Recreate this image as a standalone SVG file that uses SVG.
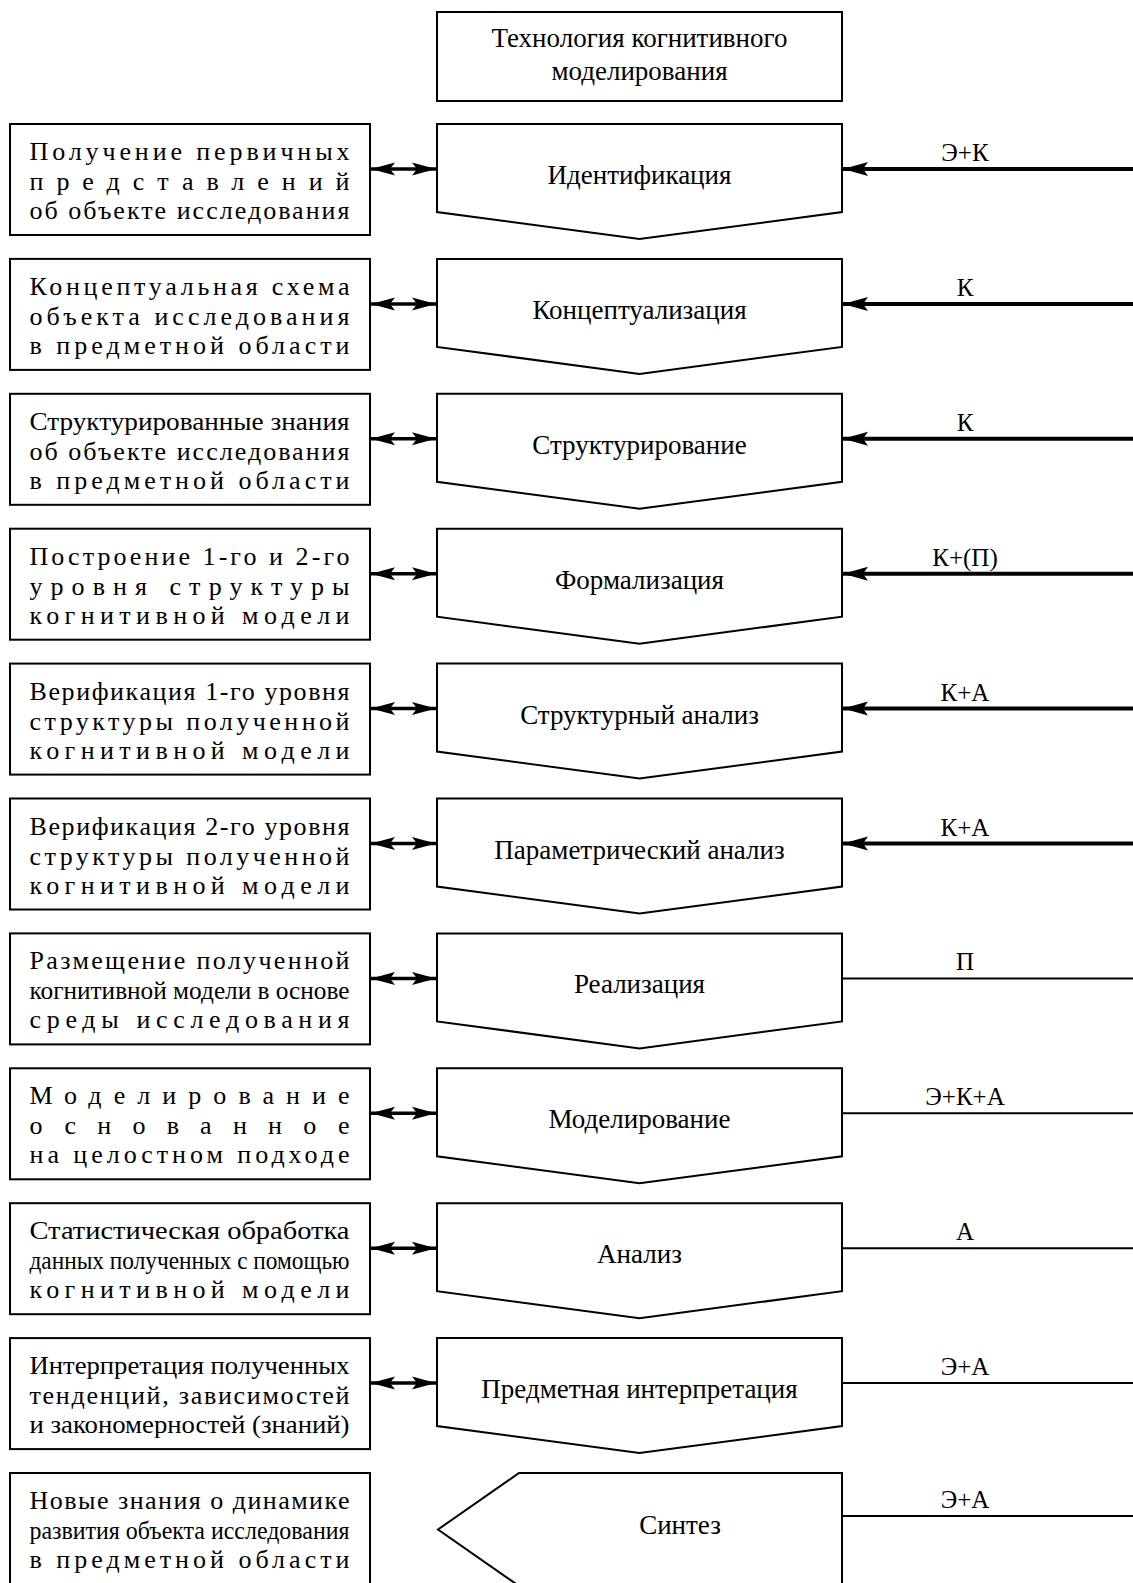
<svg xmlns="http://www.w3.org/2000/svg" width="1133" height="1583" viewBox="0 0 1133 1583">
  <defs>
    <style>
      .box { fill: #fff; stroke: #000; stroke-width: 2; }
      .txt { font-family: "Liberation Serif", "Times New Roman", serif; font-size: 26px; fill: #000; }
      .ctr { font-family: "Liberation Serif", "Times New Roman", serif; font-size: 27px; fill: #000; text-anchor: middle; }
      .lbl { font-family: "Liberation Serif", "Times New Roman", serif; font-size: 25px; fill: #000; text-anchor: middle; }
      .dbl { stroke: #000; stroke-width: 3.5; fill: none; }
      .thick { stroke: #000; stroke-width: 4; fill: none; }
      .thin { stroke: #000; stroke-width: 2; fill: none; }
    </style>
    <marker id="headDbl" markerUnits="userSpaceOnUse" markerWidth="26" markerHeight="16" refX="24" refY="7" orient="auto-start-reverse">
      <path d="M0,0.5 L24,7 L0,13.5 L5,7 Z" fill="#000"/>
    </marker>
    <marker id="headIn" markerUnits="userSpaceOnUse" markerWidth="28" markerHeight="16" refX="25" refY="7.5" orient="auto">
      <path d="M0,0.5 L25,7.5 L0,14.5 L5,7.5 Z" fill="#000"/>
    </marker>
  </defs>

  <!-- title block -->
  <g id="title">
    <rect class="box" x="437" y="12" width="405" height="89"/>
    <text class="ctr" x="639.5" y="47">Технология когнитивного</text>
    <text class="ctr" x="639.5" y="80">моделирования</text>
  </g>

  <!-- row 1 -->
  <g id="res1" transform="translate(0,124)">
    <rect class="box" x="10" y="0" width="360" height="111"/>
    <text class="txt" x="29.5" y="36" textLength="320" lengthAdjust="spacing">Получение первичных</text>
    <text class="txt" x="29.5" y="66" textLength="320" lengthAdjust="spacing">представлений</text>
    <text class="txt" x="29.5" y="95" textLength="320" lengthAdjust="spacing">об объекте исследования</text>
  </g>
  <g id="stage1" transform="translate(0,124)">
    <polygon class="box" points="437,0 842,0 842,88 639.5,115 437,88"/>
    <text class="ctr" x="639.5" y="60">Идентификация</text>
  </g>

  <!-- row 2 -->
  <g id="res2" transform="translate(0,258.9)">
    <rect class="box" x="10" y="0" width="360" height="111"/>
    <text class="txt" x="29.5" y="36" textLength="320" lengthAdjust="spacing">Концептуальная схема</text>
    <text class="txt" x="29.5" y="66" textLength="320" lengthAdjust="spacing">объекта исследования</text>
    <text class="txt" x="29.5" y="95" textLength="320" lengthAdjust="spacing">в предметной области</text>
  </g>
  <g id="stage2" transform="translate(0,258.9)">
    <polygon class="box" points="437,0 842,0 842,88 639.5,115 437,88"/>
    <text class="ctr" x="639.5" y="60">Концептуализация</text>
  </g>

  <!-- row 3 -->
  <g id="res3" transform="translate(0,393.8)">
    <rect class="box" x="10" y="0" width="360" height="111"/>
    <text class="txt" x="29.5" y="36" textLength="320" lengthAdjust="spacingAndGlyphs">Структурированные знания</text>
    <text class="txt" x="29.5" y="66" textLength="320" lengthAdjust="spacing">об объекте исследования</text>
    <text class="txt" x="29.5" y="95" textLength="320" lengthAdjust="spacing">в предметной области</text>
  </g>
  <g id="stage3" transform="translate(0,393.8)">
    <polygon class="box" points="437,0 842,0 842,88 639.5,115 437,88"/>
    <text class="ctr" x="639.5" y="60">Структурирование</text>
  </g>

  <!-- row 4 -->
  <g id="res4" transform="translate(0,528.7)">
    <rect class="box" x="10" y="0" width="360" height="111"/>
    <text class="txt" x="29.5" y="36" textLength="320" lengthAdjust="spacing">Построение 1-го и 2-го</text>
    <text class="txt" x="29.5" y="66" textLength="320" lengthAdjust="spacing">уровня структуры</text>
    <text class="txt" x="29.5" y="95" textLength="320" lengthAdjust="spacing">когнитивной модели</text>
  </g>
  <g id="stage4" transform="translate(0,528.7)">
    <polygon class="box" points="437,0 842,0 842,88 639.5,115 437,88"/>
    <text class="ctr" x="639.5" y="60">Формализация</text>
  </g>

  <!-- row 5 -->
  <g id="res5" transform="translate(0,663.6)">
    <rect class="box" x="10" y="0" width="360" height="111"/>
    <text class="txt" x="29.5" y="36" textLength="320" lengthAdjust="spacing">Верификация 1-го уровня</text>
    <text class="txt" x="29.5" y="66" textLength="320" lengthAdjust="spacing">структуры полученной</text>
    <text class="txt" x="29.5" y="95" textLength="320" lengthAdjust="spacing">когнитивной модели</text>
  </g>
  <g id="stage5" transform="translate(0,663.6)">
    <polygon class="box" points="437,0 842,0 842,88 639.5,115 437,88"/>
    <text class="ctr" x="639.5" y="60">Структурный анализ</text>
  </g>

  <!-- row 6 -->
  <g id="res6" transform="translate(0,798.5)">
    <rect class="box" x="10" y="0" width="360" height="111"/>
    <text class="txt" x="29.5" y="36" textLength="320" lengthAdjust="spacing">Верификация 2-го уровня</text>
    <text class="txt" x="29.5" y="66" textLength="320" lengthAdjust="spacing">структуры полученной</text>
    <text class="txt" x="29.5" y="95" textLength="320" lengthAdjust="spacing">когнитивной модели</text>
  </g>
  <g id="stage6" transform="translate(0,798.5)">
    <polygon class="box" points="437,0 842,0 842,88 639.5,115 437,88"/>
    <text class="ctr" x="639.5" y="60">Параметрический анализ</text>
  </g>

  <!-- row 7 -->
  <g id="res7" transform="translate(0,933.4)">
    <rect class="box" x="10" y="0" width="360" height="111"/>
    <text class="txt" x="29.5" y="36" textLength="320" lengthAdjust="spacing">Размещение полученной</text>
    <text class="txt" x="29.5" y="66" textLength="320" lengthAdjust="spacingAndGlyphs">когнитивной модели в основе</text>
    <text class="txt" x="29.5" y="95" textLength="320" lengthAdjust="spacing">среды исследования</text>
  </g>
  <g id="stage7" transform="translate(0,933.4)">
    <polygon class="box" points="437,0 842,0 842,88 639.5,115 437,88"/>
    <text class="ctr" x="639.5" y="60">Реализация</text>
  </g>

  <!-- row 8 -->
  <g id="res8" transform="translate(0,1068.3)">
    <rect class="box" x="10" y="0" width="360" height="111"/>
    <text class="txt" x="29.5" y="36" textLength="320" lengthAdjust="spacing">Моделирование</text>
    <text class="txt" x="29.5" y="66" textLength="320" lengthAdjust="spacing">основанное</text>
    <text class="txt" x="29.5" y="95" textLength="320" lengthAdjust="spacing">на целостном подходе</text>
  </g>
  <g id="stage8" transform="translate(0,1068.3)">
    <polygon class="box" points="437,0 842,0 842,88 639.5,115 437,88"/>
    <text class="ctr" x="639.5" y="60">Моделирование</text>
  </g>

  <!-- row 9 -->
  <g id="res9" transform="translate(0,1203.2)">
    <rect class="box" x="10" y="0" width="360" height="111"/>
    <text class="txt" x="29.5" y="36" textLength="320" lengthAdjust="spacingAndGlyphs">Статистическая обработка</text>
    <text class="txt" x="29.5" y="66" textLength="320" lengthAdjust="spacingAndGlyphs">данных полученных с помощью</text>
    <text class="txt" x="29.5" y="95" textLength="320" lengthAdjust="spacing">когнитивной модели</text>
  </g>
  <g id="stage9" transform="translate(0,1203.2)">
    <polygon class="box" points="437,0 842,0 842,88 639.5,115 437,88"/>
    <text class="ctr" x="639.5" y="60">Анализ</text>
  </g>

  <!-- row 10 -->
  <g id="res10" transform="translate(0,1338.1)">
    <rect class="box" x="10" y="0" width="360" height="111"/>
    <text class="txt" x="29.5" y="36" textLength="320" lengthAdjust="spacingAndGlyphs">Интерпретация полученных</text>
    <text class="txt" x="29.5" y="66" textLength="320" lengthAdjust="spacing">тенденций, зависимостей</text>
    <text class="txt" x="29.5" y="95" textLength="320" lengthAdjust="spacingAndGlyphs">и закономерностей (знаний)</text>
  </g>
  <g id="stage10" transform="translate(0,1338.1)">
    <polygon class="box" points="437,0 842,0 842,88 639.5,115 437,88"/>
    <text class="ctr" x="639.5" y="60">Предметная интерпретация</text>
  </g>

  <!-- row 11 -->
  <g id="res11" transform="translate(0,1473)">
    <rect class="box" x="10" y="0" width="360" height="111"/>
    <text class="txt" x="29.5" y="36" textLength="320" lengthAdjust="spacing">Новые знания о динамике</text>
    <text class="txt" x="29.5" y="66" textLength="320" lengthAdjust="spacingAndGlyphs">развития объекта исследования</text>
    <text class="txt" x="29.5" y="95" textLength="320" lengthAdjust="spacing">в предметной области</text>
  </g>
  <g id="stage11" transform="translate(0,1473)">
    <polygon class="box" points="519,0 842,0 842,113 519,113 438,56.5"/>
    <text class="ctr" x="680" y="61">Синтез</text>
  </g>

  <!-- connectors: result links and resource inputs -->
  <g id="connectors">
    <line class="dbl" x1="371" y1="169" x2="436" y2="169" marker-start="url(#headDbl)" marker-end="url(#headDbl)"/>
    <line class="dbl" x1="371" y1="303.9" x2="436" y2="303.9" marker-start="url(#headDbl)" marker-end="url(#headDbl)"/>
    <line class="dbl" x1="371" y1="438.8" x2="436" y2="438.8" marker-start="url(#headDbl)" marker-end="url(#headDbl)"/>
    <line class="dbl" x1="371" y1="573.7" x2="436" y2="573.7" marker-start="url(#headDbl)" marker-end="url(#headDbl)"/>
    <line class="dbl" x1="371" y1="708.6" x2="436" y2="708.6" marker-start="url(#headDbl)" marker-end="url(#headDbl)"/>
    <line class="dbl" x1="371" y1="843.5" x2="436" y2="843.5" marker-start="url(#headDbl)" marker-end="url(#headDbl)"/>
    <line class="dbl" x1="371" y1="978.4" x2="436" y2="978.4" marker-start="url(#headDbl)" marker-end="url(#headDbl)"/>
    <line class="dbl" x1="371" y1="1113.3" x2="436" y2="1113.3" marker-start="url(#headDbl)" marker-end="url(#headDbl)"/>
    <line class="dbl" x1="371" y1="1248.2" x2="436" y2="1248.2" marker-start="url(#headDbl)" marker-end="url(#headDbl)"/>
    <line class="dbl" x1="371" y1="1383.1" x2="436" y2="1383.1" marker-start="url(#headDbl)" marker-end="url(#headDbl)"/>

    <line class="thick" x1="1133" y1="169" x2="843" y2="169" marker-end="url(#headIn)"/>
    <line class="thick" x1="1133" y1="303.9" x2="843" y2="303.9" marker-end="url(#headIn)"/>
    <line class="thick" x1="1133" y1="438.8" x2="843" y2="438.8" marker-end="url(#headIn)"/>
    <line class="thick" x1="1133" y1="573.7" x2="843" y2="573.7" marker-end="url(#headIn)"/>
    <line class="thick" x1="1133" y1="708.6" x2="843" y2="708.6" marker-end="url(#headIn)"/>
    <line class="thick" x1="1133" y1="843.5" x2="843" y2="843.5" marker-end="url(#headIn)"/>
    <line class="thin" x1="1133" y1="978.4" x2="843" y2="978.4"/>
    <line class="thin" x1="1133" y1="1113.3" x2="843" y2="1113.3"/>
    <line class="thin" x1="1133" y1="1248.2" x2="843" y2="1248.2"/>
    <line class="thin" x1="1133" y1="1383.1" x2="843" y2="1383.1"/>
    <line class="thin" x1="1133" y1="1516" x2="843" y2="1516"/>

    <text class="lbl" x="965" y="161">Э+К</text>
    <text class="lbl" x="965" y="295.9">К</text>
    <text class="lbl" x="965" y="430.8">К</text>
    <text class="lbl" x="965" y="565.7">К+(П)</text>
    <text class="lbl" x="965" y="700.6">К+А</text>
    <text class="lbl" x="965" y="835.5">К+А</text>
    <text class="lbl" x="965" y="970.4">П</text>
    <text class="lbl" x="965" y="1105.3">Э+К+А</text>
    <text class="lbl" x="965" y="1240.2">А</text>
    <text class="lbl" x="965" y="1375.1">Э+А</text>
    <text class="lbl" x="965" y="1508">Э+А</text>
  </g>
</svg>
